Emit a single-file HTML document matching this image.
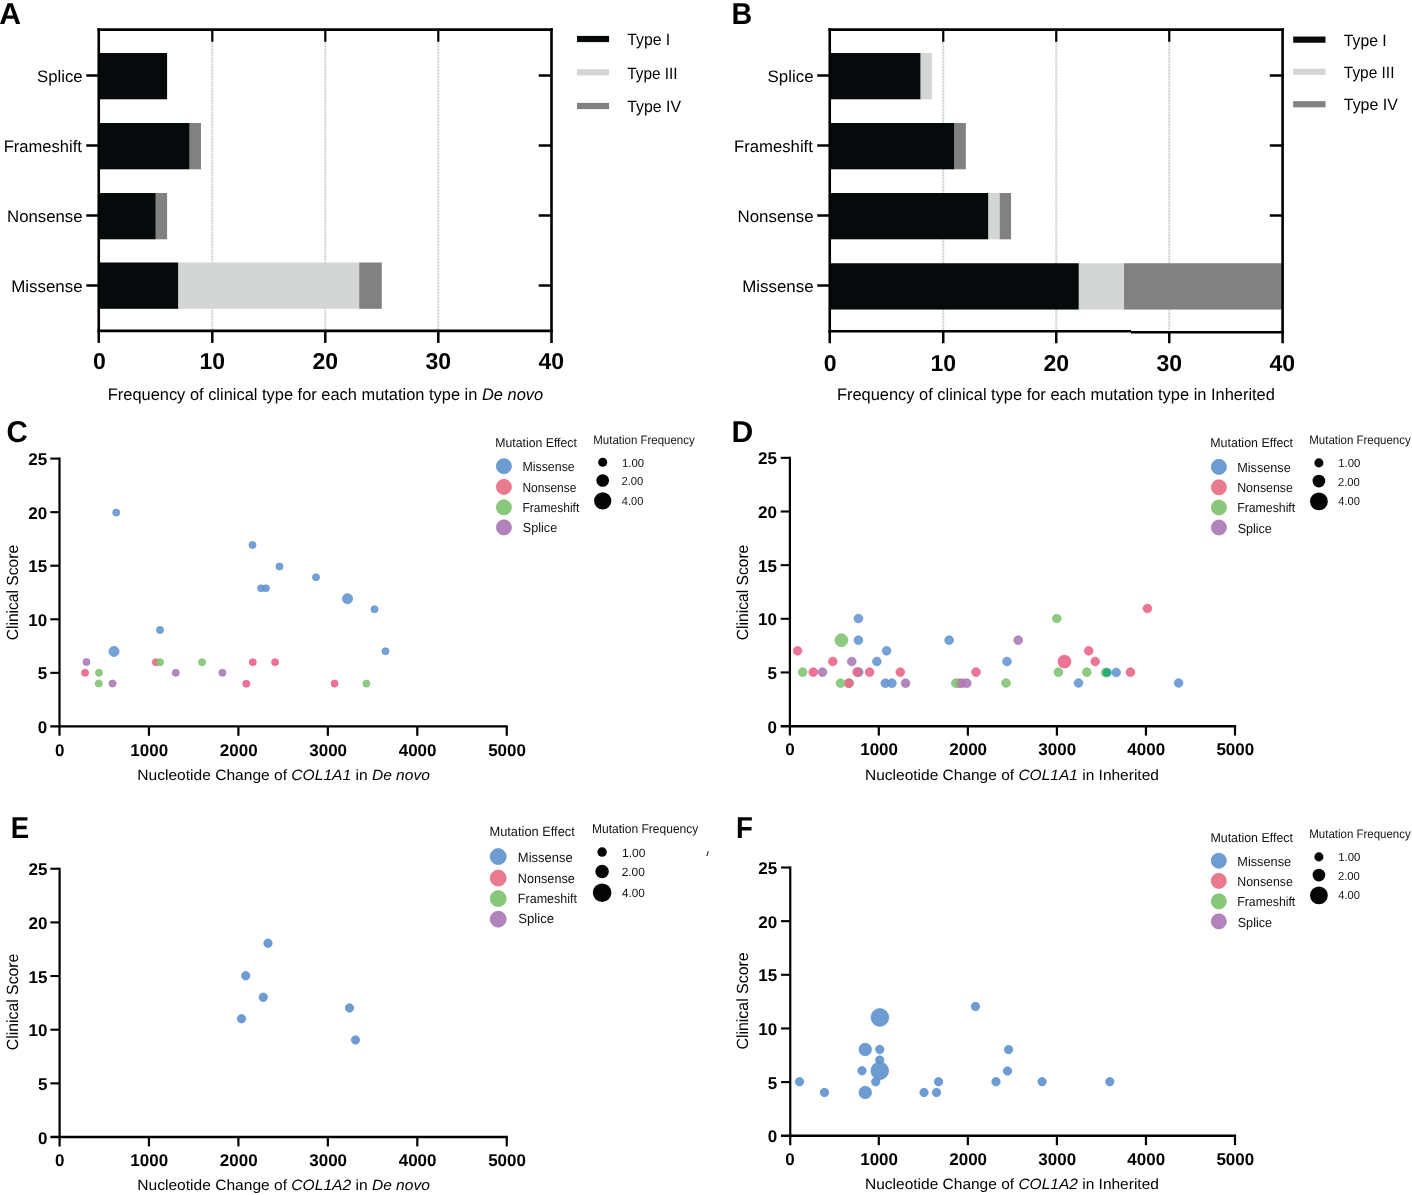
<!DOCTYPE html><html><head><meta charset="utf-8"><title>Figure</title><style>html,body{margin:0;padding:0;background:#fff;overflow:hidden;}svg{display:block;will-change:transform;font-family:"Liberation Sans",sans-serif;}</style></head><body>
<svg width="1412" height="1195" viewBox="0 0 1412 1195" text-rendering="geometricPrecision">
<rect width="1412" height="1195" fill="#fff"/>
<text font-size="30.2" font-weight="bold" x="-0.76" y="24.1">A</text>
<text font-size="30.2" font-weight="bold" textLength="20.72" lengthAdjust="spacingAndGlyphs" x="731.48" y="23.9">B</text>
<text font-size="30.2" font-weight="bold" textLength="21.26" lengthAdjust="spacingAndGlyphs" x="6.44" y="442">C</text>
<text font-size="30.2" font-weight="bold" textLength="21.78" lengthAdjust="spacingAndGlyphs" x="731.38" y="441.6">D</text>
<text font-size="30.2" font-weight="bold" textLength="18.31" lengthAdjust="spacingAndGlyphs" x="10.66" y="838.2">E</text>
<text font-size="30.2" font-weight="bold" textLength="16.86" lengthAdjust="spacingAndGlyphs" x="736.05" y="838.2">F</text>
<line x1="212.3" y1="30.6" x2="212.3" y2="329.9" stroke="#cdcdcd" stroke-width="1.9" stroke-dasharray="2 1"/>
<line x1="325.3" y1="30.6" x2="325.3" y2="329.9" stroke="#cdcdcd" stroke-width="1.9" stroke-dasharray="2 1"/>
<line x1="438.3" y1="30.6" x2="438.3" y2="329.9" stroke="#cdcdcd" stroke-width="1.9" stroke-dasharray="2 1"/>
<line x1="538.7" y1="75.5" x2="551.5" y2="75.5" stroke="#000" stroke-width="2.5" />
<line x1="538.7" y1="145.5" x2="551.5" y2="145.5" stroke="#000" stroke-width="2.5" />
<line x1="538.7" y1="215.5" x2="551.5" y2="215.5" stroke="#000" stroke-width="2.5" />
<line x1="538.7" y1="285.5" x2="551.5" y2="285.5" stroke="#000" stroke-width="2.5" />
<rect x="99.3" y="53" width="67.8" height="46.3" fill="#060a0b"/>
<rect x="99.3" y="123" width="90.4" height="46.3" fill="#060a0b"/>
<rect x="189.7" y="123" width="11.3" height="46.3" fill="#808180"/>
<rect x="99.3" y="193" width="56.5" height="46.3" fill="#060a0b"/>
<rect x="155.8" y="193" width="11.3" height="46.3" fill="#808180"/>
<rect x="99.3" y="262.5" width="79.1" height="46.3" fill="#060a0b"/>
<rect x="178.4" y="262.5" width="180.8" height="46.3" fill="#d4d5d5"/>
<rect x="359.2" y="262.5" width="22.6" height="46.3" fill="#808180"/>
<line x1="98.75" y1="28.3" x2="98.75" y2="332.2" stroke="#000" stroke-width="2.6" />
<line x1="551.5" y1="28.3" x2="551.5" y2="342.9" stroke="#000" stroke-width="2.6" />
<line x1="97.45" y1="29.6" x2="552.8" y2="29.6" stroke="#000" stroke-width="2.6" />
<line x1="97.45" y1="330.9" x2="552.8" y2="330.9" stroke="#000" stroke-width="2.6" />
<line x1="212.3" y1="29.6" x2="212.3" y2="41.8" stroke="#000" stroke-width="2.2" />
<line x1="325.3" y1="29.6" x2="325.3" y2="41.8" stroke="#000" stroke-width="2.2" />
<line x1="438.3" y1="29.6" x2="438.3" y2="41.8" stroke="#000" stroke-width="2.2" />
<line x1="98.75" y1="330.9" x2="98.75" y2="342.9" stroke="#000" stroke-width="2.5" />
<line x1="212.3" y1="330.9" x2="212.3" y2="342.9" stroke="#000" stroke-width="2.5" />
<line x1="325.3" y1="330.9" x2="325.3" y2="342.9" stroke="#000" stroke-width="2.5" />
<line x1="438.3" y1="330.9" x2="438.3" y2="342.9" stroke="#000" stroke-width="2.5" />
<line x1="86.25" y1="75.5" x2="98.75" y2="75.5" stroke="#000" stroke-width="2.5" />
<line x1="86.25" y1="145.5" x2="98.75" y2="145.5" stroke="#000" stroke-width="2.5" />
<line x1="86.25" y1="215.5" x2="98.75" y2="215.5" stroke="#000" stroke-width="2.5" />
<line x1="86.25" y1="285.5" x2="98.75" y2="285.5" stroke="#000" stroke-width="2.5" />
<text font-size="16.6" textLength="45.5" lengthAdjust="spacingAndGlyphs" x="37.04" y="81.7">Splice</text>
<text font-size="16.6" textLength="78.18" lengthAdjust="spacingAndGlyphs" x="3.74" y="151.7">Frameshift</text>
<text font-size="16.6" textLength="75.52" lengthAdjust="spacingAndGlyphs" x="7.02" y="221.7">Nonsense</text>
<text font-size="16.6" textLength="71.34" lengthAdjust="spacingAndGlyphs" x="11.21" y="291.7">Missense</text>
<text font-size="23" font-weight="bold" text-anchor="middle" x="99.3" y="368.8">0</text>
<text font-size="23" font-weight="bold" text-anchor="middle" x="212.3" y="368.8">10</text>
<text font-size="23" font-weight="bold" text-anchor="middle" x="325.3" y="368.8">20</text>
<text font-size="23" font-weight="bold" text-anchor="middle" x="438.3" y="368.8">30</text>
<text font-size="23" font-weight="bold" text-anchor="middle" x="551.3" y="368.8">40</text>
<text font-size="16.6" textLength="435.37" lengthAdjust="spacingAndGlyphs" x="107.75" y="399.5">Frequency of clinical type for each mutation type in <tspan font-style="italic">De novo</tspan></text>
<rect x="577" y="35.9" width="32.1" height="6.2" fill="#060a0b"/>
<text font-size="16.4" textLength="43.01" lengthAdjust="spacingAndGlyphs" x="627.25" y="45.1">Type I</text>
<rect x="577" y="69.2" width="32.1" height="6.2" fill="#d4d5d5"/>
<text font-size="16.4" textLength="50.36" lengthAdjust="spacingAndGlyphs" x="627.25" y="78.7">Type III</text>
<rect x="577" y="102.9" width="32.1" height="6.2" fill="#808180"/>
<text font-size="16.4" textLength="53.73" lengthAdjust="spacingAndGlyphs" x="627.24" y="112.1">Type IV</text>
<line x1="943.25" y1="30.6" x2="943.25" y2="330.25" stroke="#cdcdcd" stroke-width="1.9" stroke-dasharray="2 1"/>
<line x1="1056.25" y1="30.6" x2="1056.25" y2="330.25" stroke="#cdcdcd" stroke-width="1.9" stroke-dasharray="2 1"/>
<line x1="1169.25" y1="30.6" x2="1169.25" y2="330.25" stroke="#cdcdcd" stroke-width="1.9" stroke-dasharray="2 1"/>
<line x1="1269.8" y1="75.5" x2="1282.6" y2="75.5" stroke="#000" stroke-width="2.5" />
<line x1="1269.8" y1="145.5" x2="1282.6" y2="145.5" stroke="#000" stroke-width="2.5" />
<line x1="1269.8" y1="215.5" x2="1282.6" y2="215.5" stroke="#000" stroke-width="2.5" />
<line x1="1269.8" y1="285.5" x2="1282.6" y2="285.5" stroke="#000" stroke-width="2.5" />
<rect x="830.25" y="53" width="90.4" height="46.3" fill="#060a0b"/>
<rect x="920.65" y="53" width="11.3" height="46.3" fill="#d4d5d5"/>
<rect x="830.25" y="123" width="124.3" height="46.3" fill="#060a0b"/>
<rect x="954.55" y="123" width="11.3" height="46.3" fill="#808180"/>
<rect x="830.25" y="193" width="158.2" height="46.3" fill="#060a0b"/>
<rect x="988.45" y="193" width="11.3" height="46.3" fill="#d4d5d5"/>
<rect x="999.75" y="193" width="11.3" height="46.3" fill="#808180"/>
<rect x="830.25" y="263.25" width="248.6" height="46.3" fill="#060a0b"/>
<rect x="1078.85" y="263.25" width="45.2" height="46.3" fill="#d4d5d5"/>
<rect x="1124.05" y="263.25" width="158.2" height="46.3" fill="#808180"/>
<line x1="829.75" y1="28.3" x2="829.75" y2="332.55" stroke="#000" stroke-width="2.6" />
<line x1="1282.6" y1="28.3" x2="1282.6" y2="343.25" stroke="#000" stroke-width="2.6" />
<line x1="828.45" y1="29.6" x2="1283.9" y2="29.6" stroke="#000" stroke-width="2.6" />
<line x1="828.45" y1="331.25" x2="1131" y2="331.25" stroke="#000" stroke-width="2.6" />
<line x1="1131" y1="332.25" x2="1283.9" y2="332.25" stroke="#000" stroke-width="2.6" />
<line x1="943.25" y1="29.6" x2="943.25" y2="41.8" stroke="#000" stroke-width="2.2" />
<line x1="1056.25" y1="29.6" x2="1056.25" y2="41.8" stroke="#000" stroke-width="2.2" />
<line x1="1169.25" y1="29.6" x2="1169.25" y2="41.8" stroke="#000" stroke-width="2.2" />
<line x1="829.75" y1="331.25" x2="829.75" y2="343.25" stroke="#000" stroke-width="2.5" />
<line x1="943.25" y1="331.25" x2="943.25" y2="343.25" stroke="#000" stroke-width="2.5" />
<line x1="1056.25" y1="331.25" x2="1056.25" y2="343.25" stroke="#000" stroke-width="2.5" />
<line x1="1169.25" y1="331.25" x2="1169.25" y2="343.25" stroke="#000" stroke-width="2.5" />
<line x1="817.25" y1="75.5" x2="829.75" y2="75.5" stroke="#000" stroke-width="2.5" />
<line x1="817.25" y1="145.5" x2="829.75" y2="145.5" stroke="#000" stroke-width="2.5" />
<line x1="817.25" y1="215.5" x2="829.75" y2="215.5" stroke="#000" stroke-width="2.5" />
<line x1="817.25" y1="285.5" x2="829.75" y2="285.5" stroke="#000" stroke-width="2.5" />
<text font-size="16.6" textLength="45.91" lengthAdjust="spacingAndGlyphs" x="767.63" y="81.7">Splice</text>
<text font-size="16.6" textLength="78.89" lengthAdjust="spacingAndGlyphs" x="734.03" y="151.7">Frameshift</text>
<text font-size="16.6" textLength="76.04" lengthAdjust="spacingAndGlyphs" x="737.51" y="221.7">Nonsense</text>
<text font-size="16.6" textLength="71.34" lengthAdjust="spacingAndGlyphs" x="742.21" y="291.7">Missense</text>
<text font-size="23" font-weight="bold" text-anchor="middle" x="830.25" y="370.6">0</text>
<text font-size="23" font-weight="bold" text-anchor="middle" x="943.25" y="370.6">10</text>
<text font-size="23" font-weight="bold" text-anchor="middle" x="1056.25" y="370.6">20</text>
<text font-size="23" font-weight="bold" text-anchor="middle" x="1169.25" y="370.6">30</text>
<text font-size="23" font-weight="bold" text-anchor="middle" x="1282.25" y="370.6">40</text>
<text font-size="16.6" textLength="437.91" lengthAdjust="spacingAndGlyphs" x="836.95" y="399.6">Frequency of clinical type for each mutation type in Inherited</text>
<rect x="1293.2" y="36.55" width="32.3" height="6.2" fill="#060a0b"/>
<text font-size="16.4" textLength="42.8" lengthAdjust="spacingAndGlyphs" x="1343.85" y="45.8">Type I</text>
<rect x="1293.2" y="68.7" width="32.3" height="6.2" fill="#d4d5d5"/>
<text font-size="16.4" textLength="50.57" lengthAdjust="spacingAndGlyphs" x="1343.85" y="78.1">Type III</text>
<rect x="1293.2" y="101.15" width="32.3" height="6.2" fill="#808180"/>
<text font-size="16.4" textLength="53.93" lengthAdjust="spacingAndGlyphs" x="1343.84" y="110.4">Type IV</text>
<circle cx="116.25" cy="512.5" r="3.55" fill="#6899d2" fill-opacity="0.92" stroke="#5b8ccc" stroke-width="0.7" stroke-opacity="0.92"/>
<circle cx="252.5" cy="545" r="3.55" fill="#6899d2" fill-opacity="0.92" stroke="#5b8ccc" stroke-width="0.7" stroke-opacity="0.92"/>
<circle cx="279.5" cy="566.5" r="3.55" fill="#6899d2" fill-opacity="0.92" stroke="#5b8ccc" stroke-width="0.7" stroke-opacity="0.92"/>
<circle cx="261.1" cy="588.3" r="3.55" fill="#6899d2" fill-opacity="0.92" stroke="#5b8ccc" stroke-width="0.7" stroke-opacity="0.92"/>
<circle cx="265.9" cy="588.3" r="3.55" fill="#6899d2" fill-opacity="0.92" stroke="#5b8ccc" stroke-width="0.7" stroke-opacity="0.92"/>
<circle cx="316" cy="577.25" r="3.55" fill="#6899d2" fill-opacity="0.92" stroke="#5b8ccc" stroke-width="0.7" stroke-opacity="0.92"/>
<circle cx="347.5" cy="598.75" r="5.1" fill="#6899d2" fill-opacity="0.92" stroke="#5b8ccc" stroke-width="0.7" stroke-opacity="0.92"/>
<circle cx="160" cy="630" r="3.55" fill="#6899d2" fill-opacity="0.92" stroke="#5b8ccc" stroke-width="0.7" stroke-opacity="0.92"/>
<circle cx="114" cy="651.5" r="5.1" fill="#6899d2" fill-opacity="0.92" stroke="#5b8ccc" stroke-width="0.7" stroke-opacity="0.92"/>
<circle cx="374.5" cy="609.25" r="3.55" fill="#6899d2" fill-opacity="0.92" stroke="#5b8ccc" stroke-width="0.7" stroke-opacity="0.92"/>
<circle cx="385.5" cy="651.25" r="3.55" fill="#6899d2" fill-opacity="0.92" stroke="#5b8ccc" stroke-width="0.7" stroke-opacity="0.92"/>
<circle cx="86.45" cy="662" r="3.55" fill="#ae7eb9" fill-opacity="0.92" stroke="#a56fb3" stroke-width="0.7" stroke-opacity="0.92"/>
<circle cx="112.5" cy="683.5" r="3.55" fill="#ae7eb9" fill-opacity="0.92" stroke="#a56fb3" stroke-width="0.7" stroke-opacity="0.92"/>
<circle cx="175.8" cy="672.8" r="3.55" fill="#ae7eb9" fill-opacity="0.92" stroke="#a56fb3" stroke-width="0.7" stroke-opacity="0.92"/>
<circle cx="222.4" cy="672.8" r="3.55" fill="#ae7eb9" fill-opacity="0.92" stroke="#a56fb3" stroke-width="0.7" stroke-opacity="0.92"/>
<circle cx="85.05" cy="672.8" r="3.55" fill="#ec688c" fill-opacity="0.92" stroke="#e85a85" stroke-width="0.7" stroke-opacity="0.92"/>
<circle cx="155.9" cy="662.2" r="3.55" fill="#ec688c" fill-opacity="0.92" stroke="#e85a85" stroke-width="0.7" stroke-opacity="0.92"/>
<circle cx="252.8" cy="662.2" r="3.55" fill="#ec688c" fill-opacity="0.92" stroke="#e85a85" stroke-width="0.7" stroke-opacity="0.92"/>
<circle cx="275.1" cy="662.2" r="3.55" fill="#ec688c" fill-opacity="0.92" stroke="#e85a85" stroke-width="0.7" stroke-opacity="0.92"/>
<circle cx="246.3" cy="683.7" r="3.55" fill="#ec688c" fill-opacity="0.92" stroke="#e85a85" stroke-width="0.7" stroke-opacity="0.92"/>
<circle cx="334.6" cy="683.6" r="3.55" fill="#ec688c" fill-opacity="0.92" stroke="#e85a85" stroke-width="0.7" stroke-opacity="0.92"/>
<circle cx="99" cy="672.75" r="3.55" fill="#84c676" fill-opacity="0.92" stroke="#76bd68" stroke-width="0.7" stroke-opacity="0.92"/>
<circle cx="98.75" cy="683.5" r="3.55" fill="#84c676" fill-opacity="0.92" stroke="#76bd68" stroke-width="0.7" stroke-opacity="0.92"/>
<circle cx="160" cy="662.2" r="3.55" fill="#84c676" fill-opacity="0.92" stroke="#76bd68" stroke-width="0.7" stroke-opacity="0.92"/>
<circle cx="202.1" cy="662.2" r="3.55" fill="#84c676" fill-opacity="0.92" stroke="#76bd68" stroke-width="0.7" stroke-opacity="0.92"/>
<circle cx="366.4" cy="683.6" r="3.55" fill="#84c676" fill-opacity="0.92" stroke="#76bd68" stroke-width="0.7" stroke-opacity="0.92"/>
<line x1="59.5" y1="457.6" x2="59.5" y2="735.8" stroke="#000" stroke-width="2.2" />
<line x1="50.3" y1="726.4" x2="507.85" y2="726.4" stroke="#000" stroke-width="2.4" />
<line x1="50.3" y1="672.84" x2="59.5" y2="672.84" stroke="#000" stroke-width="2.1" />
<line x1="50.3" y1="619.28" x2="59.5" y2="619.28" stroke="#000" stroke-width="2.1" />
<line x1="50.3" y1="565.72" x2="59.5" y2="565.72" stroke="#000" stroke-width="2.1" />
<line x1="50.3" y1="512.16" x2="59.5" y2="512.16" stroke="#000" stroke-width="2.1" />
<line x1="50.3" y1="458.6" x2="59.5" y2="458.6" stroke="#000" stroke-width="2.1" />
<line x1="148.95" y1="726.4" x2="148.95" y2="735.8" stroke="#000" stroke-width="2.2" />
<line x1="238.4" y1="726.4" x2="238.4" y2="735.8" stroke="#000" stroke-width="2.2" />
<line x1="327.85" y1="726.4" x2="327.85" y2="735.8" stroke="#000" stroke-width="2.2" />
<line x1="417.3" y1="726.4" x2="417.3" y2="735.8" stroke="#000" stroke-width="2.2" />
<line x1="506.75" y1="726.4" x2="506.75" y2="735.8" stroke="#000" stroke-width="2.2" />
<text font-size="17" font-weight="bold" text-anchor="end" x="47.2" y="732.9">0</text>
<text font-size="17" font-weight="bold" text-anchor="end" x="47.2" y="679.34">5</text>
<text font-size="17" font-weight="bold" text-anchor="end" x="47.2" y="625.78">10</text>
<text font-size="17" font-weight="bold" text-anchor="end" x="47.2" y="572.22">15</text>
<text font-size="17" font-weight="bold" text-anchor="end" x="47.2" y="518.66">20</text>
<text font-size="17" font-weight="bold" text-anchor="end" x="47.2" y="465.1">25</text>
<text font-size="17" font-weight="bold" text-anchor="middle" x="59.8" y="755.6">0</text>
<text font-size="17" font-weight="bold" text-anchor="middle" x="149.25" y="755.6">1000</text>
<text font-size="17" font-weight="bold" text-anchor="middle" x="238.7" y="755.6">2000</text>
<text font-size="17" font-weight="bold" text-anchor="middle" x="328.15" y="755.6">3000</text>
<text font-size="17" font-weight="bold" text-anchor="middle" x="417.6" y="755.6">4000</text>
<text font-size="17" font-weight="bold" text-anchor="middle" x="507.05" y="755.6">5000</text>
<text font-size="16.2" textLength="95.39" lengthAdjust="spacingAndGlyphs" transform="rotate(-90)" x="-640.29" y="18.3">Clinical Score</text>
<text font-size="14.9" textLength="292.57" lengthAdjust="spacingAndGlyphs" x="137.32" y="779.9">Nucleotide Change of <tspan font-style="italic">COL1A1</tspan> in <tspan font-style="italic">De novo</tspan></text>
<text font-size="12.8" fill="#111" textLength="81.6" lengthAdjust="spacingAndGlyphs" x="495.29" y="446.7">Mutation Effect</text>
<circle cx="503.9" cy="466.2" r="7.55" fill="#6899d2" fill-opacity="0.97" stroke="#5b8ccc" stroke-width="0.7" stroke-opacity="0.97"/>
<text font-size="13.1" fill="#111" textLength="52.37" lengthAdjust="spacingAndGlyphs" x="522.38" y="471.1">Missense</text>
<circle cx="503.9" cy="486.9" r="7.55" fill="#e9768a" fill-opacity="0.97" stroke="#e56a80" stroke-width="0.7" stroke-opacity="0.97"/>
<text font-size="13.1" fill="#111" textLength="54.02" lengthAdjust="spacingAndGlyphs" x="522.42" y="492">Nonsense</text>
<circle cx="503.9" cy="507.3" r="7.55" fill="#84c676" fill-opacity="0.97" stroke="#76bd68" stroke-width="0.7" stroke-opacity="0.97"/>
<text font-size="13.1" fill="#111" textLength="56.88" lengthAdjust="spacingAndGlyphs" x="522.41" y="511.7">Frameshift</text>
<circle cx="503.9" cy="527.4" r="7.55" fill="#ae7eb9" fill-opacity="0.97" stroke="#a56fb3" stroke-width="0.7" stroke-opacity="0.97"/>
<text font-size="13.1" fill="#111" textLength="34.33" lengthAdjust="spacingAndGlyphs" x="522.83" y="532.4">Splice</text>
<text font-size="12.2" fill="#111" textLength="101.47" lengthAdjust="spacingAndGlyphs" x="593.26" y="443.9">Mutation Frequency</text>
<circle cx="602.7" cy="462.3" r="4.5" fill="#050505"/>
<text font-size="11.6" fill="#111" textLength="22.11" lengthAdjust="spacingAndGlyphs" x="622.03" y="466.5">1.00</text>
<circle cx="602.7" cy="480.5" r="6.35" fill="#050505"/>
<text font-size="11.6" fill="#111" textLength="21.8" lengthAdjust="spacingAndGlyphs" x="621.54" y="484.7">2.00</text>
<circle cx="602.7" cy="500.8" r="8.65" fill="#050505"/>
<text font-size="11.6" fill="#111" textLength="21.48" lengthAdjust="spacingAndGlyphs" x="621.85" y="504.9">4.00</text>
<circle cx="858.4" cy="618.5" r="4.35" fill="#6899d2" fill-opacity="0.92" stroke="#5b8ccc" stroke-width="0.7" stroke-opacity="0.92"/>
<circle cx="858.4" cy="640.2" r="4.35" fill="#6899d2" fill-opacity="0.92" stroke="#5b8ccc" stroke-width="0.7" stroke-opacity="0.92"/>
<circle cx="949.1" cy="640.2" r="4.35" fill="#6899d2" fill-opacity="0.92" stroke="#5b8ccc" stroke-width="0.7" stroke-opacity="0.92"/>
<circle cx="886.6" cy="650.8" r="4.35" fill="#6899d2" fill-opacity="0.92" stroke="#5b8ccc" stroke-width="0.7" stroke-opacity="0.92"/>
<circle cx="876.9" cy="661.5" r="4.35" fill="#6899d2" fill-opacity="0.92" stroke="#5b8ccc" stroke-width="0.7" stroke-opacity="0.92"/>
<circle cx="858.7" cy="672.1" r="4.35" fill="#6899d2" fill-opacity="0.92" stroke="#5b8ccc" stroke-width="0.7" stroke-opacity="0.92"/>
<circle cx="885.3" cy="683.2" r="4.35" fill="#6899d2" fill-opacity="0.92" stroke="#5b8ccc" stroke-width="0.7" stroke-opacity="0.92"/>
<circle cx="891.9" cy="683.2" r="4.35" fill="#6899d2" fill-opacity="0.92" stroke="#5b8ccc" stroke-width="0.7" stroke-opacity="0.92"/>
<circle cx="1007" cy="661.5" r="4.35" fill="#6899d2" fill-opacity="0.92" stroke="#5b8ccc" stroke-width="0.7" stroke-opacity="0.92"/>
<circle cx="1078.5" cy="683" r="4.35" fill="#6899d2" fill-opacity="0.92" stroke="#5b8ccc" stroke-width="0.7" stroke-opacity="0.92"/>
<circle cx="1178.6" cy="683" r="4.35" fill="#6899d2" fill-opacity="0.92" stroke="#5b8ccc" stroke-width="0.7" stroke-opacity="0.92"/>
<circle cx="1116.2" cy="672.5" r="4.35" fill="#6899d2" fill-opacity="0.92" stroke="#5b8ccc" stroke-width="0.7" stroke-opacity="0.92"/>
<circle cx="797.6" cy="650.8" r="4.35" fill="#ec688c" fill-opacity="0.92" stroke="#e85a85" stroke-width="0.7" stroke-opacity="0.92"/>
<circle cx="832.8" cy="661.5" r="4.35" fill="#ec688c" fill-opacity="0.92" stroke="#e85a85" stroke-width="0.7" stroke-opacity="0.92"/>
<circle cx="813.3" cy="672.1" r="4.35" fill="#ec688c" fill-opacity="0.92" stroke="#e85a85" stroke-width="0.7" stroke-opacity="0.92"/>
<circle cx="857.1" cy="672.1" r="4.35" fill="#ec688c" fill-opacity="0.92" stroke="#e85a85" stroke-width="0.7" stroke-opacity="0.92"/>
<circle cx="869.6" cy="672.1" r="4.35" fill="#ec688c" fill-opacity="0.92" stroke="#e85a85" stroke-width="0.7" stroke-opacity="0.92"/>
<circle cx="900.3" cy="672.1" r="4.35" fill="#ec688c" fill-opacity="0.92" stroke="#e85a85" stroke-width="0.7" stroke-opacity="0.92"/>
<circle cx="976" cy="672.1" r="4.35" fill="#ec688c" fill-opacity="0.92" stroke="#e85a85" stroke-width="0.7" stroke-opacity="0.92"/>
<circle cx="849.3" cy="683.2" r="4.35" fill="#84c676" fill-opacity="0.92" stroke="#76bd68" stroke-width="0.7" stroke-opacity="0.92"/>
<circle cx="848.6" cy="683.2" r="4.35" fill="#ec688c" fill-opacity="0.92" stroke="#e85a85" stroke-width="0.7" stroke-opacity="0.92"/>
<circle cx="958.9" cy="683.2" r="4.35" fill="#ec688c" fill-opacity="0.92" stroke="#e85a85" stroke-width="0.7" stroke-opacity="0.92"/>
<circle cx="1147.4" cy="608.5" r="4.35" fill="#ec688c" fill-opacity="0.92" stroke="#e85a85" stroke-width="0.7" stroke-opacity="0.92"/>
<circle cx="1088.7" cy="650.8" r="4.35" fill="#ec688c" fill-opacity="0.92" stroke="#e85a85" stroke-width="0.7" stroke-opacity="0.92"/>
<circle cx="1064.45" cy="661.6" r="6.45" fill="#ec688c" fill-opacity="0.92" stroke="#e85a85" stroke-width="0.7" stroke-opacity="0.92"/>
<circle cx="1095.2" cy="661.5" r="4.35" fill="#ec688c" fill-opacity="0.92" stroke="#e85a85" stroke-width="0.7" stroke-opacity="0.92"/>
<circle cx="1130.4" cy="672.2" r="4.35" fill="#ec688c" fill-opacity="0.92" stroke="#e85a85" stroke-width="0.7" stroke-opacity="0.92"/>
<circle cx="841.4" cy="640.2" r="6.45" fill="#84c676" fill-opacity="0.92" stroke="#76bd68" stroke-width="0.7" stroke-opacity="0.92"/>
<circle cx="802.6" cy="672.1" r="4.35" fill="#84c676" fill-opacity="0.92" stroke="#76bd68" stroke-width="0.7" stroke-opacity="0.92"/>
<circle cx="840.6" cy="683.2" r="4.35" fill="#84c676" fill-opacity="0.92" stroke="#76bd68" stroke-width="0.7" stroke-opacity="0.92"/>
<circle cx="955.8" cy="683.2" r="4.35" fill="#84c676" fill-opacity="0.92" stroke="#76bd68" stroke-width="0.7" stroke-opacity="0.92"/>
<circle cx="1056.8" cy="618.5" r="4.35" fill="#84c676" fill-opacity="0.92" stroke="#76bd68" stroke-width="0.7" stroke-opacity="0.92"/>
<circle cx="1006" cy="683" r="4.35" fill="#84c676" fill-opacity="0.92" stroke="#76bd68" stroke-width="0.7" stroke-opacity="0.92"/>
<circle cx="1058.4" cy="672.2" r="4.35" fill="#84c676" fill-opacity="0.92" stroke="#76bd68" stroke-width="0.7" stroke-opacity="0.92"/>
<circle cx="1086.8" cy="672.2" r="4.35" fill="#84c676" fill-opacity="0.92" stroke="#76bd68" stroke-width="0.7" stroke-opacity="0.92"/>
<circle cx="851.8" cy="661.5" r="4.35" fill="#ae7eb9" fill-opacity="0.92" stroke="#a56fb3" stroke-width="0.7" stroke-opacity="0.92"/>
<circle cx="822.5" cy="672.1" r="4.35" fill="#ae7eb9" fill-opacity="0.92" stroke="#a56fb3" stroke-width="0.7" stroke-opacity="0.92"/>
<circle cx="905.6" cy="683.2" r="4.35" fill="#ae7eb9" fill-opacity="0.92" stroke="#a56fb3" stroke-width="0.7" stroke-opacity="0.92"/>
<circle cx="962.2" cy="683.2" r="4.35" fill="#ae7eb9" fill-opacity="0.92" stroke="#a56fb3" stroke-width="0.7" stroke-opacity="0.92"/>
<circle cx="966.8" cy="683.2" r="4.35" fill="#ae7eb9" fill-opacity="0.92" stroke="#a56fb3" stroke-width="0.7" stroke-opacity="0.92"/>
<circle cx="1018.2" cy="640.2" r="4.35" fill="#ae7eb9" fill-opacity="0.92" stroke="#a56fb3" stroke-width="0.7" stroke-opacity="0.92"/>
<circle cx="1107" cy="672.5" r="4.35" fill="#6899d2" fill-opacity="0.92" stroke="#5b8ccc" stroke-width="0.7" stroke-opacity="0.92"/>
<circle cx="1105.6" cy="672.5" r="4.35" fill="#84c676" fill-opacity="0.92" stroke="#76bd68" stroke-width="0.7" stroke-opacity="0.92"/>
<circle cx="1106.8" cy="672.5" r="4" fill="#23ad78"/>
<line x1="789.9" y1="456.85" x2="789.9" y2="735.6" stroke="#000" stroke-width="2.2" />
<line x1="780.7" y1="726.2" x2="1236.1" y2="726.2" stroke="#000" stroke-width="2.4" />
<line x1="780.7" y1="672.45" x2="789.9" y2="672.45" stroke="#000" stroke-width="2.1" />
<line x1="780.7" y1="618.8" x2="789.9" y2="618.8" stroke="#000" stroke-width="2.1" />
<line x1="780.7" y1="565.15" x2="789.9" y2="565.15" stroke="#000" stroke-width="2.1" />
<line x1="780.7" y1="511.5" x2="789.9" y2="511.5" stroke="#000" stroke-width="2.1" />
<line x1="780.7" y1="457.85" x2="789.9" y2="457.85" stroke="#000" stroke-width="2.1" />
<line x1="878.8" y1="726.2" x2="878.8" y2="735.6" stroke="#000" stroke-width="2.2" />
<line x1="967.85" y1="726.2" x2="967.85" y2="735.6" stroke="#000" stroke-width="2.2" />
<line x1="1056.9" y1="726.2" x2="1056.9" y2="735.6" stroke="#000" stroke-width="2.2" />
<line x1="1145.95" y1="726.2" x2="1145.95" y2="735.6" stroke="#000" stroke-width="2.2" />
<line x1="1235" y1="726.2" x2="1235" y2="735.6" stroke="#000" stroke-width="2.2" />
<text font-size="17" font-weight="bold" text-anchor="end" x="776.9" y="732.6">0</text>
<text font-size="17" font-weight="bold" text-anchor="end" x="776.9" y="678.95">5</text>
<text font-size="17" font-weight="bold" text-anchor="end" x="776.9" y="625.3">10</text>
<text font-size="17" font-weight="bold" text-anchor="end" x="776.9" y="571.65">15</text>
<text font-size="17" font-weight="bold" text-anchor="end" x="776.9" y="518">20</text>
<text font-size="17" font-weight="bold" text-anchor="end" x="776.9" y="464.35">25</text>
<text font-size="17" font-weight="bold" text-anchor="middle" x="790.05" y="755.3">0</text>
<text font-size="17" font-weight="bold" text-anchor="middle" x="879.1" y="755.3">1000</text>
<text font-size="17" font-weight="bold" text-anchor="middle" x="968.15" y="755.3">2000</text>
<text font-size="17" font-weight="bold" text-anchor="middle" x="1057.2" y="755.3">3000</text>
<text font-size="17" font-weight="bold" text-anchor="middle" x="1146.25" y="755.3">4000</text>
<text font-size="17" font-weight="bold" text-anchor="middle" x="1235.3" y="755.3">5000</text>
<text font-size="16.2" textLength="95.59" lengthAdjust="spacingAndGlyphs" transform="rotate(-90)" x="-640.29" y="748.4">Clinical Score</text>
<text font-size="14.9" textLength="293.87" lengthAdjust="spacingAndGlyphs" x="865.03" y="780.1">Nucleotide Change of <tspan font-style="italic">COL1A1</tspan> in Inherited</text>
<text font-size="12.8" fill="#111" textLength="82.71" lengthAdjust="spacingAndGlyphs" x="1210.28" y="447.1">Mutation Effect</text>
<circle cx="1218.9" cy="466.9" r="7.55" fill="#6899d2" fill-opacity="0.97" stroke="#5b8ccc" stroke-width="0.7" stroke-opacity="0.97"/>
<text font-size="13.1" fill="#111" textLength="53.61" lengthAdjust="spacingAndGlyphs" x="1237.16" y="471.5">Missense</text>
<circle cx="1218.9" cy="487.3" r="7.55" fill="#e9768a" fill-opacity="0.97" stroke="#e56a80" stroke-width="0.7" stroke-opacity="0.97"/>
<text font-size="13.1" fill="#111" textLength="55.77" lengthAdjust="spacingAndGlyphs" x="1237.18" y="492">Nonsense</text>
<circle cx="1218.9" cy="507.5" r="7.55" fill="#84c676" fill-opacity="0.97" stroke="#76bd68" stroke-width="0.7" stroke-opacity="0.97"/>
<text font-size="13.1" fill="#111" textLength="58" lengthAdjust="spacingAndGlyphs" x="1237.19" y="512.2">Frameshift</text>
<circle cx="1218.9" cy="527.5" r="7.55" fill="#ae7eb9" fill-opacity="0.97" stroke="#a56fb3" stroke-width="0.7" stroke-opacity="0.97"/>
<text font-size="13.1" fill="#111" textLength="34.23" lengthAdjust="spacingAndGlyphs" x="1237.63" y="532.6">Splice</text>
<text font-size="12.2" fill="#111" textLength="101.47" lengthAdjust="spacingAndGlyphs" x="1309.26" y="444.3">Mutation Frequency</text>
<circle cx="1318.9" cy="462.9" r="4.55" fill="#050505"/>
<text font-size="11.6" fill="#111" textLength="22.22" lengthAdjust="spacingAndGlyphs" x="1338.13" y="467">1.00</text>
<circle cx="1318.9" cy="481.1" r="6.35" fill="#050505"/>
<text font-size="11.6" fill="#111" textLength="21.91" lengthAdjust="spacingAndGlyphs" x="1337.93" y="485.5">2.00</text>
<circle cx="1318.9" cy="501.4" r="8.9" fill="#050505"/>
<text font-size="11.6" fill="#111" textLength="21.59" lengthAdjust="spacingAndGlyphs" x="1338.25" y="505.3">4.00</text>
<circle cx="268" cy="943.25" r="4.2" fill="#6899d2" fill-opacity="0.97" stroke="#5b8ccc" stroke-width="0.7" stroke-opacity="0.97"/>
<circle cx="245.75" cy="975.75" r="4.2" fill="#6899d2" fill-opacity="0.97" stroke="#5b8ccc" stroke-width="0.7" stroke-opacity="0.97"/>
<circle cx="263.25" cy="997.25" r="4.2" fill="#6899d2" fill-opacity="0.97" stroke="#5b8ccc" stroke-width="0.7" stroke-opacity="0.97"/>
<circle cx="241.5" cy="1018.75" r="4.2" fill="#6899d2" fill-opacity="0.97" stroke="#5b8ccc" stroke-width="0.7" stroke-opacity="0.97"/>
<circle cx="349.5" cy="1008" r="4.2" fill="#6899d2" fill-opacity="0.97" stroke="#5b8ccc" stroke-width="0.7" stroke-opacity="0.97"/>
<circle cx="355.5" cy="1040" r="4.2" fill="#6899d2" fill-opacity="0.97" stroke="#5b8ccc" stroke-width="0.7" stroke-opacity="0.97"/>
<line x1="59.6" y1="867.75" x2="59.6" y2="1146.4" stroke="#000" stroke-width="2.2" />
<line x1="50.4" y1="1137" x2="507.85" y2="1137" stroke="#000" stroke-width="2.4" />
<line x1="50.4" y1="1083.35" x2="59.6" y2="1083.35" stroke="#000" stroke-width="2.1" />
<line x1="50.4" y1="1029.7" x2="59.6" y2="1029.7" stroke="#000" stroke-width="2.1" />
<line x1="50.4" y1="976.05" x2="59.6" y2="976.05" stroke="#000" stroke-width="2.1" />
<line x1="50.4" y1="922.4" x2="59.6" y2="922.4" stroke="#000" stroke-width="2.1" />
<line x1="50.4" y1="868.75" x2="59.6" y2="868.75" stroke="#000" stroke-width="2.1" />
<line x1="148.95" y1="1137" x2="148.95" y2="1146.4" stroke="#000" stroke-width="2.2" />
<line x1="238.4" y1="1137" x2="238.4" y2="1146.4" stroke="#000" stroke-width="2.2" />
<line x1="327.85" y1="1137" x2="327.85" y2="1146.4" stroke="#000" stroke-width="2.2" />
<line x1="417.3" y1="1137" x2="417.3" y2="1146.4" stroke="#000" stroke-width="2.2" />
<line x1="506.75" y1="1137" x2="506.75" y2="1146.4" stroke="#000" stroke-width="2.2" />
<text font-size="17" font-weight="bold" text-anchor="end" x="47.4" y="1143.5">0</text>
<text font-size="17" font-weight="bold" text-anchor="end" x="47.4" y="1089.85">5</text>
<text font-size="17" font-weight="bold" text-anchor="end" x="47.4" y="1036.2">10</text>
<text font-size="17" font-weight="bold" text-anchor="end" x="47.4" y="982.55">15</text>
<text font-size="17" font-weight="bold" text-anchor="end" x="47.4" y="928.9">20</text>
<text font-size="17" font-weight="bold" text-anchor="end" x="47.4" y="875.25">25</text>
<text font-size="17" font-weight="bold" text-anchor="middle" x="59.8" y="1166.2">0</text>
<text font-size="17" font-weight="bold" text-anchor="middle" x="149.25" y="1166.2">1000</text>
<text font-size="17" font-weight="bold" text-anchor="middle" x="238.7" y="1166.2">2000</text>
<text font-size="17" font-weight="bold" text-anchor="middle" x="328.15" y="1166.2">3000</text>
<text font-size="17" font-weight="bold" text-anchor="middle" x="417.6" y="1166.2">4000</text>
<text font-size="17" font-weight="bold" text-anchor="middle" x="507.05" y="1166.2">5000</text>
<text font-size="16.2" textLength="96.71" lengthAdjust="spacingAndGlyphs" transform="rotate(-90)" x="-1050.3" y="18.4">Clinical Score</text>
<text font-size="14.9" textLength="292.57" lengthAdjust="spacingAndGlyphs" x="137.32" y="1190.4">Nucleotide Change of <tspan font-style="italic">COL1A2</tspan> in <tspan font-style="italic">De novo</tspan></text>
<text font-size="13.4" fill="#111" textLength="85.35" lengthAdjust="spacingAndGlyphs" x="489.45" y="836.2">Mutation Effect</text>
<circle cx="498.2" cy="856.6" r="8" fill="#6899d2" fill-opacity="0.97" stroke="#5b8ccc" stroke-width="0.7" stroke-opacity="0.97"/>
<text font-size="13.3" fill="#111" textLength="54.84" lengthAdjust="spacingAndGlyphs" x="517.83" y="861.7">Missense</text>
<circle cx="498.2" cy="878.1" r="8" fill="#e9768a" fill-opacity="0.97" stroke="#e56a80" stroke-width="0.7" stroke-opacity="0.97"/>
<text font-size="13.3" fill="#111" textLength="56.9" lengthAdjust="spacingAndGlyphs" x="517.86" y="882.9">Nonsense</text>
<circle cx="498.2" cy="898.6" r="8" fill="#84c676" fill-opacity="0.97" stroke="#76bd68" stroke-width="0.7" stroke-opacity="0.97"/>
<text font-size="13.3" fill="#111" textLength="59.12" lengthAdjust="spacingAndGlyphs" x="517.87" y="903.1">Frameshift</text>
<circle cx="498.2" cy="919.2" r="8" fill="#ae7eb9" fill-opacity="0.97" stroke="#a56fb3" stroke-width="0.7" stroke-opacity="0.97"/>
<text font-size="13.3" fill="#111" textLength="35.78" lengthAdjust="spacingAndGlyphs" x="518.3" y="923.3">Splice</text>
<text font-size="12.6" fill="#111" textLength="106.41" lengthAdjust="spacingAndGlyphs" x="591.91" y="832.8">Mutation Frequency</text>
<circle cx="602.1" cy="852.1" r="4.75" fill="#050505"/>
<text font-size="12" fill="#111" textLength="23.38" lengthAdjust="spacingAndGlyphs" x="621.98" y="856.9">1.00</text>
<circle cx="602.1" cy="871.5" r="6.75" fill="#050505"/>
<text font-size="12" fill="#111" textLength="23.06" lengthAdjust="spacingAndGlyphs" x="621.7" y="876.1">2.00</text>
<circle cx="602.1" cy="892.7" r="9.3" fill="#050505"/>
<text font-size="12" fill="#111" textLength="22.72" lengthAdjust="spacingAndGlyphs" x="622.03" y="897.1">4.00</text>
<circle cx="975.5" cy="1006.5" r="4.2" fill="#6899d2" fill-opacity="0.97" stroke="#5b8ccc" stroke-width="0.7" stroke-opacity="0.97"/>
<circle cx="879.9" cy="1017.4" r="8.85" fill="#6899d2" fill-opacity="0.97" stroke="#5b8ccc" stroke-width="0.7" stroke-opacity="0.97"/>
<circle cx="865.25" cy="1049.5" r="6.25" fill="#6899d2" fill-opacity="0.97" stroke="#5b8ccc" stroke-width="0.7" stroke-opacity="0.97"/>
<circle cx="879.75" cy="1049.5" r="4.2" fill="#6899d2" fill-opacity="0.97" stroke="#5b8ccc" stroke-width="0.7" stroke-opacity="0.97"/>
<circle cx="1008.6" cy="1049.6" r="4.2" fill="#6899d2" fill-opacity="0.97" stroke="#5b8ccc" stroke-width="0.7" stroke-opacity="0.97"/>
<circle cx="879.75" cy="1060" r="4.2" fill="#6899d2" fill-opacity="0.97" stroke="#5b8ccc" stroke-width="0.7" stroke-opacity="0.97"/>
<circle cx="879.75" cy="1070.75" r="8.85" fill="#6899d2" fill-opacity="0.97" stroke="#5b8ccc" stroke-width="0.7" stroke-opacity="0.97"/>
<circle cx="862" cy="1070.75" r="4.2" fill="#6899d2" fill-opacity="0.97" stroke="#5b8ccc" stroke-width="0.7" stroke-opacity="0.97"/>
<circle cx="1007.5" cy="1071" r="4.2" fill="#6899d2" fill-opacity="0.97" stroke="#5b8ccc" stroke-width="0.7" stroke-opacity="0.97"/>
<circle cx="799.5" cy="1081.75" r="4.2" fill="#6899d2" fill-opacity="0.97" stroke="#5b8ccc" stroke-width="0.7" stroke-opacity="0.97"/>
<circle cx="875.75" cy="1081.75" r="4.2" fill="#6899d2" fill-opacity="0.97" stroke="#5b8ccc" stroke-width="0.7" stroke-opacity="0.97"/>
<circle cx="938.5" cy="1081.75" r="4.2" fill="#6899d2" fill-opacity="0.97" stroke="#5b8ccc" stroke-width="0.7" stroke-opacity="0.97"/>
<circle cx="996" cy="1081.75" r="4.2" fill="#6899d2" fill-opacity="0.97" stroke="#5b8ccc" stroke-width="0.7" stroke-opacity="0.97"/>
<circle cx="1042.1" cy="1081.7" r="4.2" fill="#6899d2" fill-opacity="0.97" stroke="#5b8ccc" stroke-width="0.7" stroke-opacity="0.97"/>
<circle cx="1109.8" cy="1081.7" r="4.2" fill="#6899d2" fill-opacity="0.97" stroke="#5b8ccc" stroke-width="0.7" stroke-opacity="0.97"/>
<circle cx="824.5" cy="1092.5" r="4.2" fill="#6899d2" fill-opacity="0.97" stroke="#5b8ccc" stroke-width="0.7" stroke-opacity="0.97"/>
<circle cx="865.25" cy="1092.5" r="6.25" fill="#6899d2" fill-opacity="0.97" stroke="#5b8ccc" stroke-width="0.7" stroke-opacity="0.97"/>
<circle cx="924" cy="1092.5" r="4.2" fill="#6899d2" fill-opacity="0.97" stroke="#5b8ccc" stroke-width="0.7" stroke-opacity="0.97"/>
<circle cx="936.5" cy="1092.5" r="4.2" fill="#6899d2" fill-opacity="0.97" stroke="#5b8ccc" stroke-width="0.7" stroke-opacity="0.97"/>
<line x1="790.25" y1="866.5" x2="790.25" y2="1145.15" stroke="#000" stroke-width="2.2" />
<line x1="781.05" y1="1135.75" x2="1236.1" y2="1135.75" stroke="#000" stroke-width="2.4" />
<line x1="781.05" y1="1082.1" x2="790.25" y2="1082.1" stroke="#000" stroke-width="2.1" />
<line x1="781.05" y1="1028.45" x2="790.25" y2="1028.45" stroke="#000" stroke-width="2.1" />
<line x1="781.05" y1="974.8" x2="790.25" y2="974.8" stroke="#000" stroke-width="2.1" />
<line x1="781.05" y1="921.15" x2="790.25" y2="921.15" stroke="#000" stroke-width="2.1" />
<line x1="781.05" y1="867.5" x2="790.25" y2="867.5" stroke="#000" stroke-width="2.1" />
<line x1="878.8" y1="1135.75" x2="878.8" y2="1145.15" stroke="#000" stroke-width="2.2" />
<line x1="967.85" y1="1135.75" x2="967.85" y2="1145.15" stroke="#000" stroke-width="2.2" />
<line x1="1056.9" y1="1135.75" x2="1056.9" y2="1145.15" stroke="#000" stroke-width="2.2" />
<line x1="1145.95" y1="1135.75" x2="1145.95" y2="1145.15" stroke="#000" stroke-width="2.2" />
<line x1="1235" y1="1135.75" x2="1235" y2="1145.15" stroke="#000" stroke-width="2.2" />
<text font-size="17" font-weight="bold" text-anchor="end" x="777.2" y="1142.25">0</text>
<text font-size="17" font-weight="bold" text-anchor="end" x="777.2" y="1088.6">5</text>
<text font-size="17" font-weight="bold" text-anchor="end" x="777.2" y="1034.95">10</text>
<text font-size="17" font-weight="bold" text-anchor="end" x="777.2" y="981.3">15</text>
<text font-size="17" font-weight="bold" text-anchor="end" x="777.2" y="927.65">20</text>
<text font-size="17" font-weight="bold" text-anchor="end" x="777.2" y="874">25</text>
<text font-size="17" font-weight="bold" text-anchor="middle" x="790.05" y="1164.6">0</text>
<text font-size="17" font-weight="bold" text-anchor="middle" x="879.1" y="1164.6">1000</text>
<text font-size="17" font-weight="bold" text-anchor="middle" x="968.15" y="1164.6">2000</text>
<text font-size="17" font-weight="bold" text-anchor="middle" x="1057.2" y="1164.6">3000</text>
<text font-size="17" font-weight="bold" text-anchor="middle" x="1146.25" y="1164.6">4000</text>
<text font-size="17" font-weight="bold" text-anchor="middle" x="1235.3" y="1164.6">5000</text>
<text font-size="16.2" textLength="97.32" lengthAdjust="spacingAndGlyphs" transform="rotate(-90)" x="-1049.61" y="748.4">Clinical Score</text>
<text font-size="14.9" textLength="293.87" lengthAdjust="spacingAndGlyphs" x="865.03" y="1189.1">Nucleotide Change of <tspan font-style="italic">COL1A2</tspan> in Inherited</text>
<text font-size="12.9" fill="#111" textLength="82.61" lengthAdjust="spacingAndGlyphs" x="1210.38" y="841.5">Mutation Effect</text>
<circle cx="1218.8" cy="860.7" r="7.55" fill="#6899d2" fill-opacity="0.97" stroke="#5b8ccc" stroke-width="0.7" stroke-opacity="0.97"/>
<text font-size="13.1" fill="#111" textLength="53.91" lengthAdjust="spacingAndGlyphs" x="1237.25" y="865.5">Missense</text>
<circle cx="1218.8" cy="880.9" r="7.55" fill="#e9768a" fill-opacity="0.97" stroke="#e56a80" stroke-width="0.7" stroke-opacity="0.97"/>
<text font-size="13.1" fill="#111" textLength="55.56" lengthAdjust="spacingAndGlyphs" x="1237.29" y="885.7">Nonsense</text>
<circle cx="1218.8" cy="901.4" r="7.55" fill="#84c676" fill-opacity="0.97" stroke="#76bd68" stroke-width="0.7" stroke-opacity="0.97"/>
<text font-size="13.1" fill="#111" textLength="58" lengthAdjust="spacingAndGlyphs" x="1237.29" y="906">Frameshift</text>
<circle cx="1218.8" cy="921.4" r="7.55" fill="#ae7eb9" fill-opacity="0.97" stroke="#a56fb3" stroke-width="0.7" stroke-opacity="0.97"/>
<text font-size="13.1" fill="#111" textLength="34.33" lengthAdjust="spacingAndGlyphs" x="1237.73" y="926.5">Splice</text>
<text font-size="12.2" fill="#111" textLength="101.47" lengthAdjust="spacingAndGlyphs" x="1309.26" y="838.3">Mutation Frequency</text>
<circle cx="1318.9" cy="856.9" r="4.55" fill="#050505"/>
<text font-size="11.6" fill="#111" textLength="22.22" lengthAdjust="spacingAndGlyphs" x="1338.13" y="861">1.00</text>
<circle cx="1318.9" cy="875.1" r="6.35" fill="#050505"/>
<text font-size="11.6" fill="#111" textLength="21.91" lengthAdjust="spacingAndGlyphs" x="1337.93" y="879.5">2.00</text>
<circle cx="1318.9" cy="895.4" r="8.9" fill="#050505"/>
<text font-size="11.6" fill="#111" textLength="21.59" lengthAdjust="spacingAndGlyphs" x="1338.25" y="899.3">4.00</text>
<line x1="708.3" y1="851.4" x2="706.9" y2="855.9" stroke="#222" stroke-width="1.2" />
</svg></body></html>
